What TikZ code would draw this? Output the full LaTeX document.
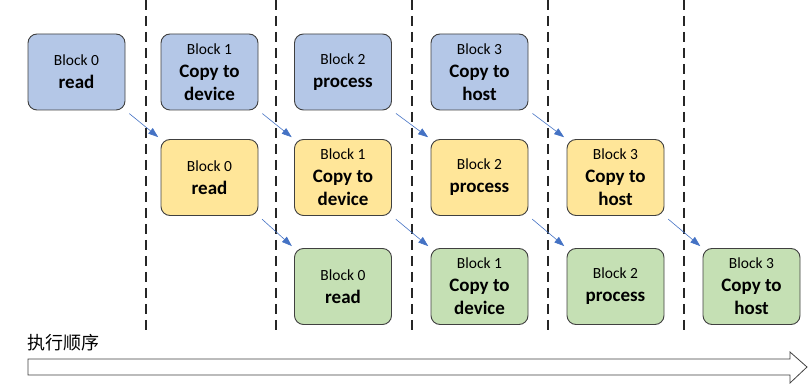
\documentclass[tikz,border=0pt]{standalone}
\usepackage{fontspec}
\setmainfont{Carlito}
\newfontfamily\cjk{Noto Sans CJK SC}
\usetikzlibrary{arrows.meta}

\definecolor{blueblk}{HTML}{B4C7E7}
\definecolor{yellowblk}{HTML}{FFE699}
\definecolor{greenblk}{HTML}{C5E0B4}
\definecolor{edgegray}{HTML}{404040}
\definecolor{linkblue}{HTML}{4472C4}

\newcommand{\op}[1]{\textbf{\fontsize{19}{23}\selectfont #1}}

\tikzset{
  blk/.style={draw=edgegray,line width=0.9pt,rounded corners=9pt,minimum width=97pt,
    minimum height=76pt,inner sep=0pt,align=center,font=\fontsize{15.5}{23}\selectfont},
  readblk/.style={blk,fill=blueblk},
  copyblk/.style={blk,fill=yellowblk},
  procblk/.style={blk,fill=greenblk},
  link/.style={linkblue,line width=0.6pt,-{Triangle[length=10pt,width=7pt]},
    shorten <=5pt,shorten >=3pt},
  sep/.style={black!85,line width=1.4pt,dash pattern=on 10pt off 6pt}
}

\begin{document}
\begin{tikzpicture}[x=1pt,y=-1pt]
	\useasboundingbox (0,0) rectangle (809,387);
	% stage separators
	\draw[sep] (146,0)--(146,336) (276,0)--(276,336) (412,0)--(412,336)
		(548,0)--(548,336) (684,0)--(684,336);
	% first stream
	\node[readblk](a0) at (76.5,72) {Block 0\\\op{read}};
	\node[readblk](a1) at (209.5,72) {Block 1\\\op{Copy to}\\\op{device}};
	\node[readblk](a2) at (343,72) {Block 2\\\op{process}};
	\node[readblk](a3) at (479.5,72) {Block 3\\\op{Copy to}\\\op{host}};
	% second stream
	\node[copyblk](b0) at (209.5,177.5) {Block 0\\\op{read}};
	\node[copyblk](b1) at (343,177.5) {Block 1\\\op{Copy to}\\\op{device}};
	\node[copyblk](b2) at (479.5,177.5) {Block 2\\\op{process}};
	\node[copyblk](b3) at (615.5,177.5) {Block 3\\\op{Copy to}\\\op{host}};
	% third stream
	\node[procblk](c0) at (343,286.5) {Block 0\\\op{read}};
	\node[procblk](c1) at (479.5,286.5) {Block 1\\\op{Copy to}\\\op{device}};
	\node[procblk](c2) at (615.5,286.5) {Block 2\\\op{process}};
	\node[procblk](c3) at (751.5,286.5) {Block 3\\\op{Copy to}\\\op{host}};
	% hand-over between streams
	\draw[link] (a0.south east)--(b0.north west);
	\draw[link] (a1.south east)--(b1.north west);
	\draw[link] (a2.south east)--(b2.north west);
	\draw[link] (a3.south east)--(b3.north west);
	\draw[link] (b0.south east)--(c0.north west);
	\draw[link] (b1.south east)--(c1.north west);
	\draw[link] (b2.south east)--(c2.north west);
	\draw[link] (b3.south east)--(c3.north west);
	% time axis
	\node[anchor=west,inner sep=0pt,font=\cjk\fontsize{18}{20}\selectfont](order) at (27,343) {执行顺序};
	\draw[edgegray,line width=0.8pt,fill=white] (28,359)--(790,359)--(790,352)--(807,367)
		--(790,383)--(790,375)--(28,375)--cycle;
\end{tikzpicture}
\end{document}
